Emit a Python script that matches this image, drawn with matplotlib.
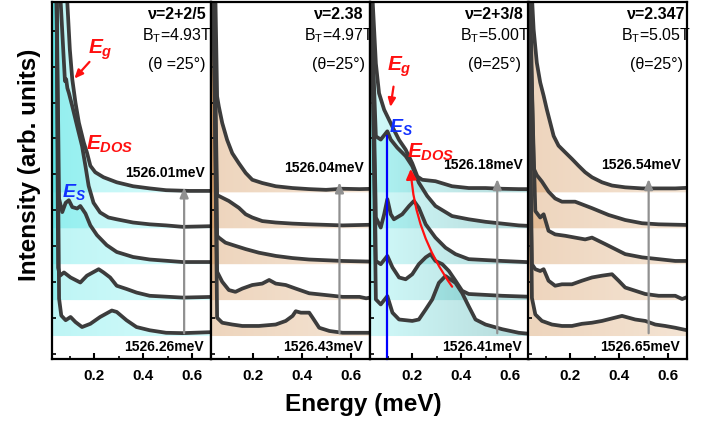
import matplotlib
matplotlib.use('Agg')
import numpy as np
import matplotlib.pyplot as plt
from matplotlib.patches import FancyArrowPatch
from matplotlib.ticker import FixedLocator
from matplotlib.colors import LinearSegmentedColormap

plt.rcParams['font.family'] = ['Liberation Sans', 'DejaVu Sans']
plt.rcParams['mathtext.fontset'] = 'custom'
plt.rcParams['mathtext.rm'] = 'Liberation Sans'
plt.rcParams['mathtext.it'] = 'Liberation Sans:italic:bold'
plt.rcParams['mathtext.bf'] = 'Liberation Sans:bold'

# ---------------- data: energy (meV) and intensity above each baseline ----------------
# Panel 1: nu = 2+2/5
p1_s4_e = [0.025, 0.075, 0.089, 0.100, 0.110, 0.123, 0.137, 0.157, 0.170, 0.184, 0.204, 0.238, 0.292, 0.359, 0.427, 0.494, 0.589, 0.690]
p1_s4_i = [14, 7.5, 5.37, 3.98, 3.15, 2.50, 1.94, 1.39, 1.11, 0.74, 0.56, 0.42, 0.28, 0.17, 0.11, 0.06, 0.04, 0.04]
p1_s3_e = [0.025, 0.050, 0.062, 0.073, 0.080, 0.085, 0.090, 0.096, 0.110, 0.130, 0.150, 0.164, 0.177, 0.197, 0.224, 0.258, 0.292, 0.359, 0.427, 0.494, 0.562, 0.629, 0.690]
p1_s3_i = [14, 9, 6.36, 4.97, 4.10, 4.15, 3.90, 3.77, 3.40, 2.84, 2.29, 1.73, 1.18, 0.71, 0.44, 0.30, 0.25, 0.16, 0.11, 0.08, 0.04, 0.05, 0.06]
p1_s2_e = [0.025, 0.046, 0.056, 0.069, 0.083, 0.096, 0.110, 0.130, 0.143, 0.164, 0.184, 0.211, 0.251, 0.292, 0.359, 0.427, 0.562, 0.690]
p1_s2_i = [14, 7.38, 1.82, 1.45, 1.71, 1.78, 1.59, 1.55, 1.62, 1.41, 1.08, 0.81, 0.53, 0.34, 0.20, 0.13, 0.06, 0.06]
p1_s1_e = [0.025, 0.046, 0.052, 0.060, 0.076, 0.103, 0.143, 0.170, 0.218, 0.238, 0.265, 0.292, 0.332, 0.373, 0.427, 0.562, 0.690]
p1_s1_i = [14, 8.36, 0.90, 0.68, 0.77, 0.63, 0.49, 0.68, 0.86, 0.77, 0.63, 0.40, 0.31, 0.21, 0.12, 0.07, 0.09]
p1_s0_e = [0.025, 0.046, 0.056, 0.065, 0.083, 0.103, 0.123, 0.150, 0.184, 0.224, 0.272, 0.292, 0.332, 0.373, 0.427, 0.494, 0.562, 0.690]
p1_s0_i = [14, 9.37, 1.04, 0.57, 0.44, 0.53, 0.39, 0.25, 0.34, 0.53, 0.71, 0.67, 0.44, 0.25, 0.16, 0.09, 0.08, 0.11]

# Panel 2: nu = 2.38
p2_s4_e = [0.025, 0.040, 0.045, 0.052, 0.059, 0.073, 0.093, 0.114, 0.141, 0.169, 0.196, 0.237, 0.292, 0.361, 0.429, 0.498, 0.566, 0.635, 0.697]
p2_s4_i = [14, 8, 5.44, 2.67, 2.39, 1.93, 1.46, 1.09, 0.81, 0.54, 0.35, 0.26, 0.17, 0.12, 0.09, 0.07, 0.10, 0.09, 0.10]
p2_s3_e = [0.025, 0.038, 0.052, 0.059, 0.100, 0.141, 0.169, 0.196, 0.237, 0.292, 0.361, 0.429, 0.566, 0.697]
p2_s3_i = [14, 6.45, 0.90, 0.90, 0.76, 0.57, 0.39, 0.30, 0.20, 0.16, 0.13, 0.11, 0.08, 0.10]
p2_s2_e = [0.025, 0.038, 0.052, 0.059, 0.086, 0.127, 0.169, 0.223, 0.292, 0.361, 0.429, 0.566, 0.697]
p2_s2_i = [14, 7.4, 0.79, 0.74, 0.60, 0.51, 0.42, 0.32, 0.23, 0.17, 0.13, 0.09, 0.07]
p2_s1_e = [0.025, 0.038, 0.052, 0.073, 0.100, 0.127, 0.155, 0.196, 0.237, 0.265, 0.292, 0.333, 0.374, 0.429, 0.498, 0.566, 0.635, 0.662, 0.697]
p2_s1_i = [14, 8.4, 0.79, 0.51, 0.28, 0.23, 0.32, 0.42, 0.46, 0.56, 0.46, 0.42, 0.32, 0.19, 0.14, 0.09, 0.09, 0.05, 0.09]
p2_s0_e = [0.025, 0.038, 0.052, 0.073, 0.114, 0.155, 0.223, 0.292, 0.333, 0.361, 0.374, 0.395, 0.429, 0.443, 0.470, 0.512, 0.566, 0.635, 0.697]
p2_s0_i = [14, 9.3, 0.51, 0.37, 0.32, 0.28, 0.28, 0.32, 0.42, 0.56, 0.69, 0.65, 0.65, 0.51, 0.23, 0.14, 0.09, 0.09, 0.09]

# Panel 3: nu = 2+3/8
p3_s4_e = [0.025, 0.037, 0.051, 0.064, 0.085, 0.105, 0.125, 0.146, 0.173, 0.200, 0.221, 0.241, 0.295, 0.363, 0.431, 0.500, 0.568, 0.636, 0.697]
p3_s4_i = [14, 5.44, 3.59, 2.76, 2.30, 2.02, 1.74, 1.46, 1.19, 0.81, 0.44, 0.35, 0.31, 0.17, 0.12, 0.12, 0.10, 0.09, 0.09]
p3_s3_e = [0.025, 0.030, 0.051, 0.071, 0.098, 0.112, 0.139, 0.173, 0.200, 0.227, 0.261, 0.295, 0.363, 0.431, 0.500, 0.568, 0.636, 0.697]
p3_s3_i = [14, 6.45, 2.56, 2.47, 2.70, 2.47, 2.24, 2.01, 1.73, 1.27, 0.90, 0.62, 0.34, 0.25, 0.18, 0.13, 0.08, 0.06]
p3_s2_e = [0.025, 0.034, 0.051, 0.071, 0.085, 0.098, 0.112, 0.125, 0.159, 0.187, 0.207, 0.227, 0.255, 0.295, 0.336, 0.377, 0.431, 0.568, 0.697]
p3_s2_i = [14, 7.4, 1.30, 1.02, 1.39, 1.81, 1.39, 1.25, 1.39, 1.62, 1.76, 1.57, 1.11, 0.74, 0.46, 0.28, 0.14, 0.09, 0.05]
p3_s1_e = [0.025, 0.034, 0.051, 0.071, 0.098, 0.119, 0.146, 0.173, 0.200, 0.227, 0.255, 0.275, 0.295, 0.323, 0.350, 0.377, 0.404, 0.431, 0.568, 0.697]
p3_s1_i = [14, 8.4, 1.09, 1.00, 1.23, 0.91, 0.63, 0.58, 0.72, 1.00, 1.19, 1.28, 1.09, 1.00, 0.81, 0.54, 0.26, 0.17, 0.12, 0.09]
p3_s0_e = [0.025, 0.034, 0.051, 0.071, 0.098, 0.119, 0.146, 0.200, 0.227, 0.255, 0.282, 0.309, 0.336, 0.377, 0.404, 0.431, 0.459, 0.500, 0.568, 0.636, 0.697]
p3_s0_i = [14, 9.35, 1.02, 0.88, 1.11, 0.65, 0.46, 0.42, 0.46, 0.74, 1.02, 1.48, 1.67, 1.48, 1.20, 0.83, 0.46, 0.32, 0.19, 0.09, 0.05]

# Panel 4: nu = 2.347
p4_s4_e = [0.025, 0.043, 0.050, 0.063, 0.077, 0.091, 0.104, 0.118, 0.132, 0.152, 0.180, 0.207, 0.234, 0.261, 0.289, 0.330, 0.371, 0.425, 0.494, 0.562, 0.630, 0.692]
p4_s4_i = [14, 5.46, 4.54, 3.61, 3.06, 2.69, 2.31, 1.94, 1.57, 1.30, 1.11, 0.93, 0.74, 0.56, 0.42, 0.28, 0.19, 0.14, 0.11, 0.11, 0.11, 0.13]
p4_s3_e = [0.025, 0.036, 0.050, 0.063, 0.084, 0.111, 0.138, 0.166, 0.220, 0.289, 0.357, 0.425, 0.494, 0.562, 0.692]
p4_s3_i = [14, 6.48, 1.67, 1.48, 1.30, 1.02, 0.83, 0.74, 0.74, 0.56, 0.37, 0.23, 0.14, 0.11, 0.09]
p4_s2_e = [0.025, 0.032, 0.057, 0.077, 0.091, 0.111, 0.138, 0.180, 0.220, 0.261, 0.289, 0.316, 0.343, 0.384, 0.425, 0.494, 0.562, 0.630, 0.692]
p4_s2_i = [14, 7.4, 1.48, 1.30, 1.39, 0.93, 0.83, 0.79, 0.74, 0.69, 0.74, 0.65, 0.56, 0.42, 0.28, 0.19, 0.14, 0.09, 0.09]
p4_s1_e = [0.025, 0.029, 0.043, 0.057, 0.077, 0.091, 0.111, 0.138, 0.166, 0.207, 0.248, 0.289, 0.330, 0.371, 0.398, 0.425, 0.466, 0.507, 0.562, 0.630, 0.658, 0.692]
p4_s1_i = [14, 8.4, 1.00, 0.86, 0.81, 0.86, 0.54, 0.40, 0.44, 0.44, 0.54, 0.63, 0.68, 0.72, 0.54, 0.35, 0.26, 0.17, 0.12, 0.12, 0.03, 0.12]
p4_s0_e = [0.025, 0.029, 0.043, 0.057, 0.084, 0.125, 0.166, 0.207, 0.248, 0.289, 0.330, 0.371, 0.412, 0.439, 0.466, 0.507, 0.548, 0.589, 0.630, 0.692]
p4_s0_i = [14, 9.4, 1.06, 0.60, 0.42, 0.32, 0.28, 0.28, 0.34, 0.37, 0.42, 0.49, 0.56, 0.51, 0.46, 0.42, 0.32, 0.28, 0.23, 0.14]

offsets = [0, 1, 2, 3, 4]
nu_labels = ['\u03bd=2+2/5', '\u03bd=2.38', '\u03bd=2+3/8', '\u03bd=2.347']
bt_labels = [r'B$_\mathrm{T}$=4.93T', r'B$_\mathrm{T}$=4.97T', r'B$_\mathrm{T}$=5.00T', r'B$_\mathrm{T}$=5.05T']
theta_labels = ['(\u03b8 =25\u00b0)', '(\u03b8=25\u00b0)', '(\u03b8=25\u00b0)', '(\u03b8=25\u00b0)']
top_energy = ['1526.01meV', '1526.04meV', '1526.18meV', '1526.54meV']
bottom_energy = ['1526.26meV', '1526.43meV', '1526.41meV', '1526.65meV']
arrow_x = [0.568, 0.553, 0.548, 0.521]
arrow_tip = [4.22, 4.36, 4.45, 4.45]

panels = [
    [(p1_s0_e, p1_s0_i), (p1_s1_e, p1_s1_i), (p1_s2_e, p1_s2_i), (p1_s3_e, p1_s3_i), (p1_s4_e, p1_s4_i)],
    [(p2_s0_e, p2_s0_i), (p2_s1_e, p2_s1_i), (p2_s2_e, p2_s2_i), (p2_s3_e, p2_s3_i), (p2_s4_e, p2_s4_i)],
    [(p3_s0_e, p3_s0_i), (p3_s1_e, p3_s1_i), (p3_s2_e, p3_s2_i), (p3_s3_e, p3_s3_i), (p3_s4_e, p3_s4_i)],
    [(p4_s0_e, p4_s0_i), (p4_s1_e, p4_s1_i), (p4_s2_e, p4_s2_i), (p4_s3_e, p4_s3_i), (p4_s4_e, p4_s4_i)],
]
# gradient fills (left colour -> right colour)
fill_grad = [('#4ae4e4', '#8cf6f6'), ('#d4965a', '#e4bc94'), ('#7cf0f0', '#2f9696'), ('#d4965a', '#e4bc94')]
fill_alpha = [0.36, 0.40, 0.36, 0.40]
text_cx = [0.786, 0.805, 0.785, 0.806]

W, H = 704, 422
fig = plt.figure(figsize=(W / 100, H / 100), dpi=100)
lefts = [52, 211, 370, 528]
grad = np.linspace(0, 1, 256).reshape(1, -1)
axes = []
for k in range(4):
    ax = fig.add_axes([lefts[k] / W, (H - 359) / H, 159 / W, 357 / H])
    axes.append(ax)
    cmap = LinearSegmentedColormap.from_list('g%d' % k, list(fill_grad[k]))
    for j, (e, inten) in enumerate(panels[k]):
        base = offsets[j]
        yv = [base + v for v in inten]
        poly = ax.fill_between(e, base, yv, facecolor='none', edgecolor='none', lw=0)
        im = ax.imshow(grad, extent=[0.03, 0.68, -1, 20], aspect='auto', cmap=cmap,
                       alpha=fill_alpha[k], zorder=1, interpolation='bilinear')
        im.set_clip_path(poly.get_paths()[0], transform=ax.transData)
    for j, (e, inten) in enumerate(panels[k]):
        base = offsets[j]
        yv = [base + v for v in inten]
        ax.plot(e, yv, color='#3c3c3c', lw=2.7, solid_joinstyle='round', solid_capstyle='round', zorder=4)
    ax.set_xlim(0.027, 0.678)
    ax.set_ylim(-0.64, 9.3)
    ax.xaxis.set_major_locator(FixedLocator([0.2, 0.4, 0.6]))
    ax.xaxis.set_minor_locator(FixedLocator([0.1, 0.3, 0.5]))
    ax.yaxis.set_major_locator(FixedLocator([-0.5 + i for i in range(10)]))
    ax.tick_params(axis='x', which='major', direction='in', length=4.5, width=1.5, pad=7, labelsize=11)
    ax.tick_params(axis='x', which='minor', direction='in', length=2.5, width=1.2)
    ax.tick_params(axis='y', which='major', direction='in', length=3, width=1.2, labelleft=False)
    for lab in ax.get_xticklabels():
        lab.set_fontweight('bold')
    for s in ax.spines.values():
        s.set_linewidth(1.6)
        s.set_zorder(6)
    # gray arrow
    ax.annotate('', xy=(arrow_x[k], arrow_tip[k]), xytext=(arrow_x[k], 0.0),
                arrowprops=dict(arrowstyle='-|>,head_length=0.6,head_width=0.25', color='#909090', lw=1.6),
                zorder=5)
    ax.text(0.49, arrow_tip[k] + 0.32, top_energy[k], fontsize=10, fontweight='bold', ha='center', va='center', zorder=7)
    ax.text(0.485, -0.3, bottom_energy[k], fontsize=10, fontweight='bold', ha='center', va='center', zorder=7)
    # header texts
    ax.text(text_cx[k], 0.966, nu_labels[k], transform=ax.transAxes, fontsize=11.5, fontweight='bold', ha='center', va='center', zorder=7)
    ax.text(text_cx[k], 0.905, bt_labels[k], transform=ax.transAxes, fontsize=11.5, ha='center', va='center', zorder=7)
    ax.text(text_cx[k], 0.826, theta_labels[k], transform=ax.transAxes, fontsize=11.5, ha='center', va='center', zorder=7)

# Panel 1 annotations
a1 = axes[0]
a1.text(0.224, 7.97, r'$E_g$', color='#ff1010', fontsize=15, ha='center', va='center', zorder=7)
a1.annotate('', xy=(0.111, 7.11), xytext=(0.188, 7.69),
            arrowprops=dict(arrowstyle='-|>,head_length=0.5,head_width=0.22', color='#ff1010', lw=1.6), zorder=7)
a1.text(0.264, 5.33, r'$E_{DOS}$', color='#ff1010', fontsize=15, ha='center', va='center', zorder=7)
a1.text(0.115, 4.02, r'$E_S$', color='#1030ff', fontsize=14, ha='center', va='center', zorder=7)

# Panel 3 annotations
a3 = axes[2]
a3.plot([0.098, 0.098], [5.58, -0.64], color='#0000ff', lw=1.6, zorder=5, clip_on=False)
a3.text(0.146, 7.50, r'$E_g$', color='#ff1010', fontsize=15, ha='center', va='center', zorder=7)
a3.annotate('', xy=(0.109, 6.30), xytext=(0.125, 7.02),
            arrowprops=dict(arrowstyle='-|>,head_length=0.5,head_width=0.22', color='#ff1010', lw=1.6), zorder=7)
a3.text(0.154, 5.83, r'$E_S$', color='#1030ff', fontsize=14, ha='center', va='center', zorder=7)
a3.text(0.276, 5.11, r'$E_{DOS}$', color='#ff1010', fontsize=15, ha='center', va='center', zorder=7)
curve = FancyArrowPatch((0.370, 1.31), (0.193, 4.73), connectionstyle='arc3,rad=-0.15',
                        arrowstyle='-|>,head_length=6,head_width=3', color='#ff1010', lw=1.6, zorder=6)
a3.add_patch(curve)

fig.text(30 / W, 1 - 165 / H, 'Intensity (arb. units)', rotation=90, fontsize=17.5, fontweight='bold', ha='center', va='center')
fig.text(363 / W, 1 - 404 / H, 'Energy (meV)', fontsize=17.5, fontweight='bold', ha='center', va='center')

fig.savefig('out.png', dpi=100)
